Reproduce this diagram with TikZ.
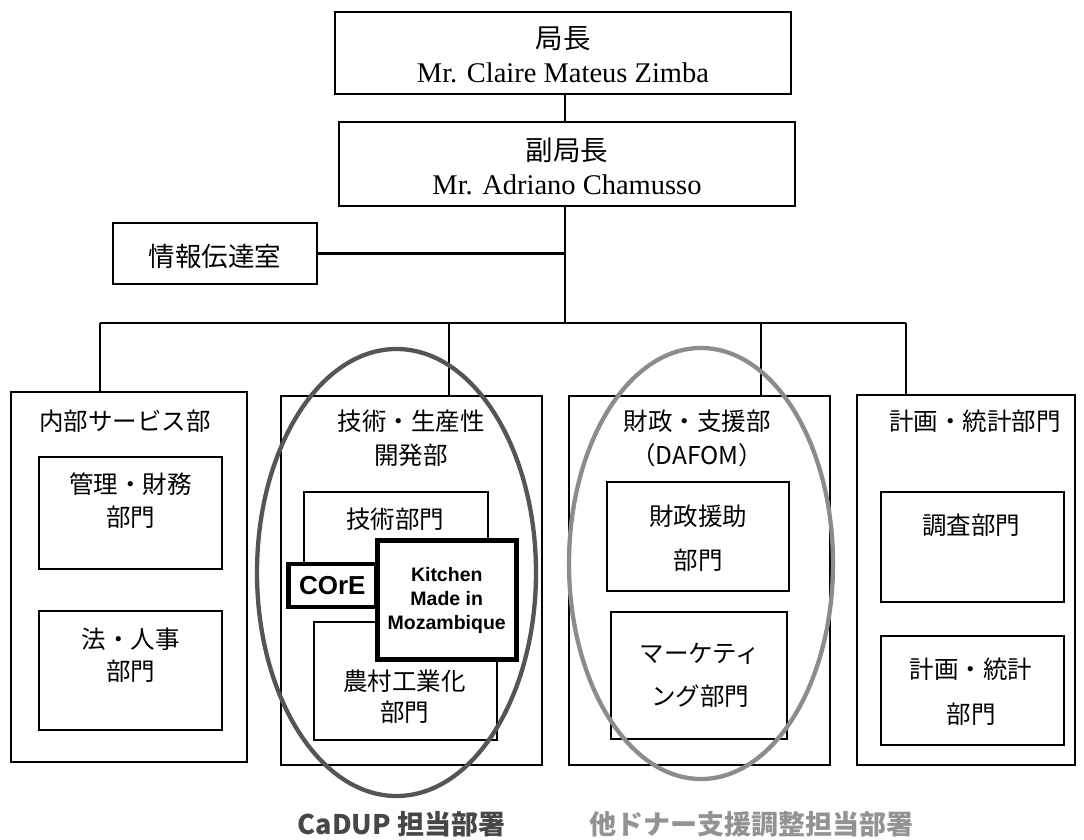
\documentclass[tikz,border=0pt]{standalone}
\usepackage{fontspec}
\setmainfont{Liberation Serif}
\newfontfamily\jp{Noto Sans CJK JP}
\newfontfamily\arl{Liberation Sans}
\usetikzlibrary{shapes.geometric}
\definecolor{ellA}{HTML}{555555}
\definecolor{ellB}{HTML}{8C8C8C}
\definecolor{labA}{HTML}{474747}
\definecolor{labB}{HTML}{939393}
\newcommand\orgbox[6][]{\node[box,minimum width={(#5-#3)*1pt},minimum height={(#6-#4)*1pt},#1] (#2) at ({(#3+#5)/2},{(#4+#6)/2}) {};}
\begin{document}
\begin{tikzpicture}[x=1pt,y=-1pt,
  box/.style={draw,line width=1.3pt,fill=white,inner sep=0pt},
  conn/.style={line width=1.7pt},
  jtxt/.style={font=\jp\fontsize{24.5}{33}\selectfont,align=center,inner sep=0pt},
  toptxt/.style={font=\fontsize{28.5}{34}\selectfont,align=center,inner sep=0pt},
  ell/.style={ellipse,draw,line width=4.3pt,inner sep=0pt}]
\useasboundingbox (0,0) rectangle (1084,840);
% top boxes
\orgbox{chief}{335}{12}{791}{94}
\orgbox{deputy}{339}{122}{795}{206}
\orgbox{info}{113}{223}{317}{284}
\node[toptxt] (chieft) at (563,55) {{\jp\fontsize{27.5}{34}\selectfont 局長}\\Mr. Claire Mateus Zimba};
\node[toptxt] (deputyt) at (567,166) {{\jp\fontsize{27.5}{34}\selectfont 副局長}\\Mr. Adriano Chamusso};
\node[jtxt,font=\jp\fontsize{26.5}{33}\selectfont] (infot) at (215,256) {情報伝達室};
% departments
\orgbox{dep1}{11}{392}{247}{762}
\orgbox{dep2}{281}{396}{542}{765}
\orgbox{dep3}{569}{396}{830}{765}
\orgbox{dep4}{857}{395}{1075}{765}
% connectors
\coordinate (j) at (565,323);
\coordinate (d1) at (100,323);
\coordinate (d2) at (449,323);
\coordinate (d3) at (761,323);
\coordinate (d4) at (906,323);
\draw[conn] (chief.south -| j) -- (deputy.north -| j);
\draw[conn] (deputy.south -| j) -- (j);
\draw[line width=2.6pt] (info.east) -- (info.east -| j);
\draw[conn] (d1) -- (d4);
\draw[conn] (d1) -- (d1 |- dep1.north);
\draw[conn] (d2) -- (d2 |- dep2.north);
\draw[conn] (d3) -- (d3 |- dep3.north);
\draw[line width=1.2pt] (d4) -- (d4 |- dep4.north);
% department titles
\node[jtxt] (dep1t) at (125,421) {内部サービス部};
\node[jtxt,font=\jp\fontsize{24.5}{34}\selectfont] (dep2t) at (411,438) {技術・生産性\\開発部};
\node[jtxt,font=\jp\fontsize{24.5}{34}\selectfont] (dep3t) at (697,438) {財政・支援部\\（DAFOM）};
\node[jtxt] (dep4t) at (975,421) {計画・統計部門};
% dept 1 units
\orgbox{admin}{39}{457}{222}{569}
\node[jtxt] (admint) at (130.5,500.5) {管理・財務\\部門};
\orgbox{legal}{39}{611}{222}{730}
\node[jtxt,font=\jp\fontsize{24.5}{32}\selectfont] (legalt) at (130.5,655) {法・人事\\部門};
% dept 2 units
\orgbox{tech}{304}{492}{488}{600}
\node[jtxt] (techt) at (395,519) {技術部門};
\orgbox{rural}{314}{622}{497}{740}
\node[jtxt,font=\jp\fontsize{24.5}{31}\selectfont] (ruralt) at (404.5,696.5) {農村工業化\\部門};
\node[box,line width=4.5pt,minimum width=87.5pt,minimum height=43pt,
  font=\arl\bfseries\fontsize{26}{28}\selectfont] (core) at (332.25,585.5) {COrE};
\node[box,line width=5pt,minimum width=138.5pt,minimum height=119pt,align=center,
  font=\arl\bfseries\fontsize{19.5}{24}\selectfont] (kmim) at (446.75,600) {Kitchen\\Made in\\Mozambique};
% dept 3 units
\orgbox{fin}{607}{482}{789}{591}
\node[jtxt,font=\jp\fontsize{24.5}{44}\selectfont] (fint) at (698,538) {財政援助\\部門};
\orgbox{mkt}{611}{612}{787}{739}
\node[jtxt,font=\jp\fontsize{24.5}{43}\selectfont] (mktt) at (700,675.5) {マーケティ\\ング部門};
% dept 4 units
\orgbox{survey}{881}{492}{1064}{602}
\node[jtxt] (surveyt) at (971,525) {調査部門};
\orgbox{plan}{881}{636}{1064}{745}
\node[jtxt,font=\jp\fontsize{24.5}{45}\selectfont] (plant) at (971,691.5) {計画・統計\\部門};
% ellipses
\node[ell,draw=ellA,minimum width=279pt,minimum height=447pt] (cadupring) at (396.5,572.5) {};
\node[ell,draw=ellB,minimum width=264pt,minimum height=431pt] (donorring) at (701,563.5) {};
% bottom labels
\node[anchor=base,inner sep=0pt,text=labA,font=\jp\bfseries\fontsize{27}{30}\selectfont] (cadupl) at (401.5,834.5) {CaDUP 担当部署};
\node[anchor=base,inner sep=0pt,text=labB,font=\jp\bfseries\fontsize{27}{30}\selectfont] (donorl) at (751.5,834.5) {他ドナー支援調整担当部署};
\end{tikzpicture}
\end{document}
